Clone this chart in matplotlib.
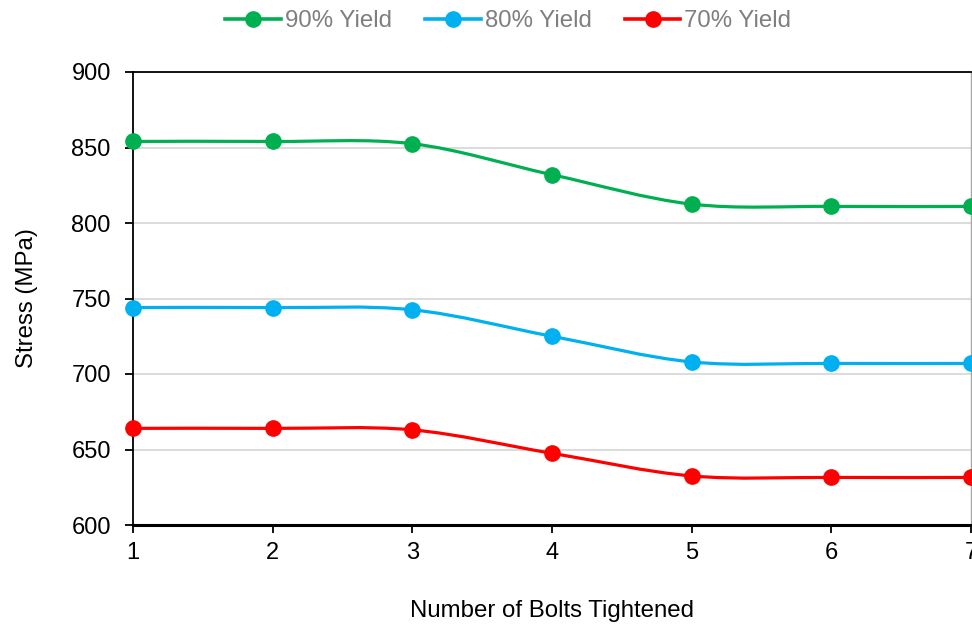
import numpy as np
import matplotlib.pyplot as plt
from matplotlib.path import Path
from matplotlib.patches import PathPatch

plt.rcParams['font.family'] = ['Liberation Sans', 'DejaVu Sans']

bolts = [1, 2, 3, 4, 5, 6, 7]
yield_90 = [854, 854, 852.5, 832, 812.5, 811, 811]
yield_80 = [744, 744, 742.5, 725, 708, 707, 707]
yield_70 = [664, 664, 663, 647.5, 632.5, 631.5, 631.5]
series = [
    ('90% Yield', yield_90, '#00b050'),
    ('80% Yield', yield_80, '#00b0f0'),
    ('70% Yield', yield_70, '#ff0000'),
]


# Excel-style smoothed line as a bezier path through the data points
def smooth_path(x, y):
    p = np.column_stack([x, y]).astype(float)
    n = len(p)
    verts = [p[0]]
    codes = [Path.MOVETO]
    for i in range(n - 1):
        p0 = p[max(i - 1, 0)]
        p1 = p[i]
        p2 = p[i + 1]
        p3 = p[min(i + 2, n - 1)]
        c1 = p1 + (p2 - p0) / 6.0
        c2 = p2 - (p3 - p1) / 6.0
        verts += [c1, c2, p2]
        codes += [Path.CURVE4] * 3
    return Path(verts, codes)


fig = plt.figure(figsize=(9.72, 6.24), dpi=100)
ax = fig.add_axes([133 / 972, 1 - 525 / 624, 838 / 972, 453 / 624])

for label, vals, color in series:
    ax.add_patch(PathPatch(smooth_path(bolts, vals), fill=False, edgecolor=color,
                           lw=2.3, zorder=3, clip_on=False))
    ax.plot(bolts, vals, 'o', color=color, ms=11, zorder=4, clip_on=False)
    ax.plot([], [], '-o', color=color, lw=2.6, ms=11, label=label)

ax.set_xlim(1, 7)
ax.set_ylim(600, 900)
ax.set_xticks(bolts)
ax.set_yticks(np.arange(600, 901, 50))
ax.grid(axis='y', color='#d9d9d9', lw=1.3)
ax.set_axisbelow(True)

ax.tick_params(axis='both', labelsize=17, direction='out', length=6, width=1.3, color='black')
ax.tick_params(axis='x', pad=6)
ax.tick_params(axis='y', pad=10)
for s in ['left', 'top']:
    ax.spines[s].set_linewidth(1.3)
ax.spines['bottom'].set_linewidth(2.2)
ax.spines['right'].set_color('#a6a6a6')
ax.spines['right'].set_linewidth(1.0)

ax.set_xlabel('Number of Bolts Tightened', fontsize=17.3, labelpad=26)
ax.set_ylabel('Stress (MPa)', fontsize=17.3, labelpad=24)

leg = fig.legend(loc='upper center', bbox_to_anchor=(0.523, 1.018), ncol=3, frameon=False,
                 fontsize=17.3, handlelength=2.3, handletextpad=0.17, columnspacing=1.4)
for t in leg.get_texts():
    t.set_color('#7f7f7f')

fig.savefig('out.png', dpi=100)
